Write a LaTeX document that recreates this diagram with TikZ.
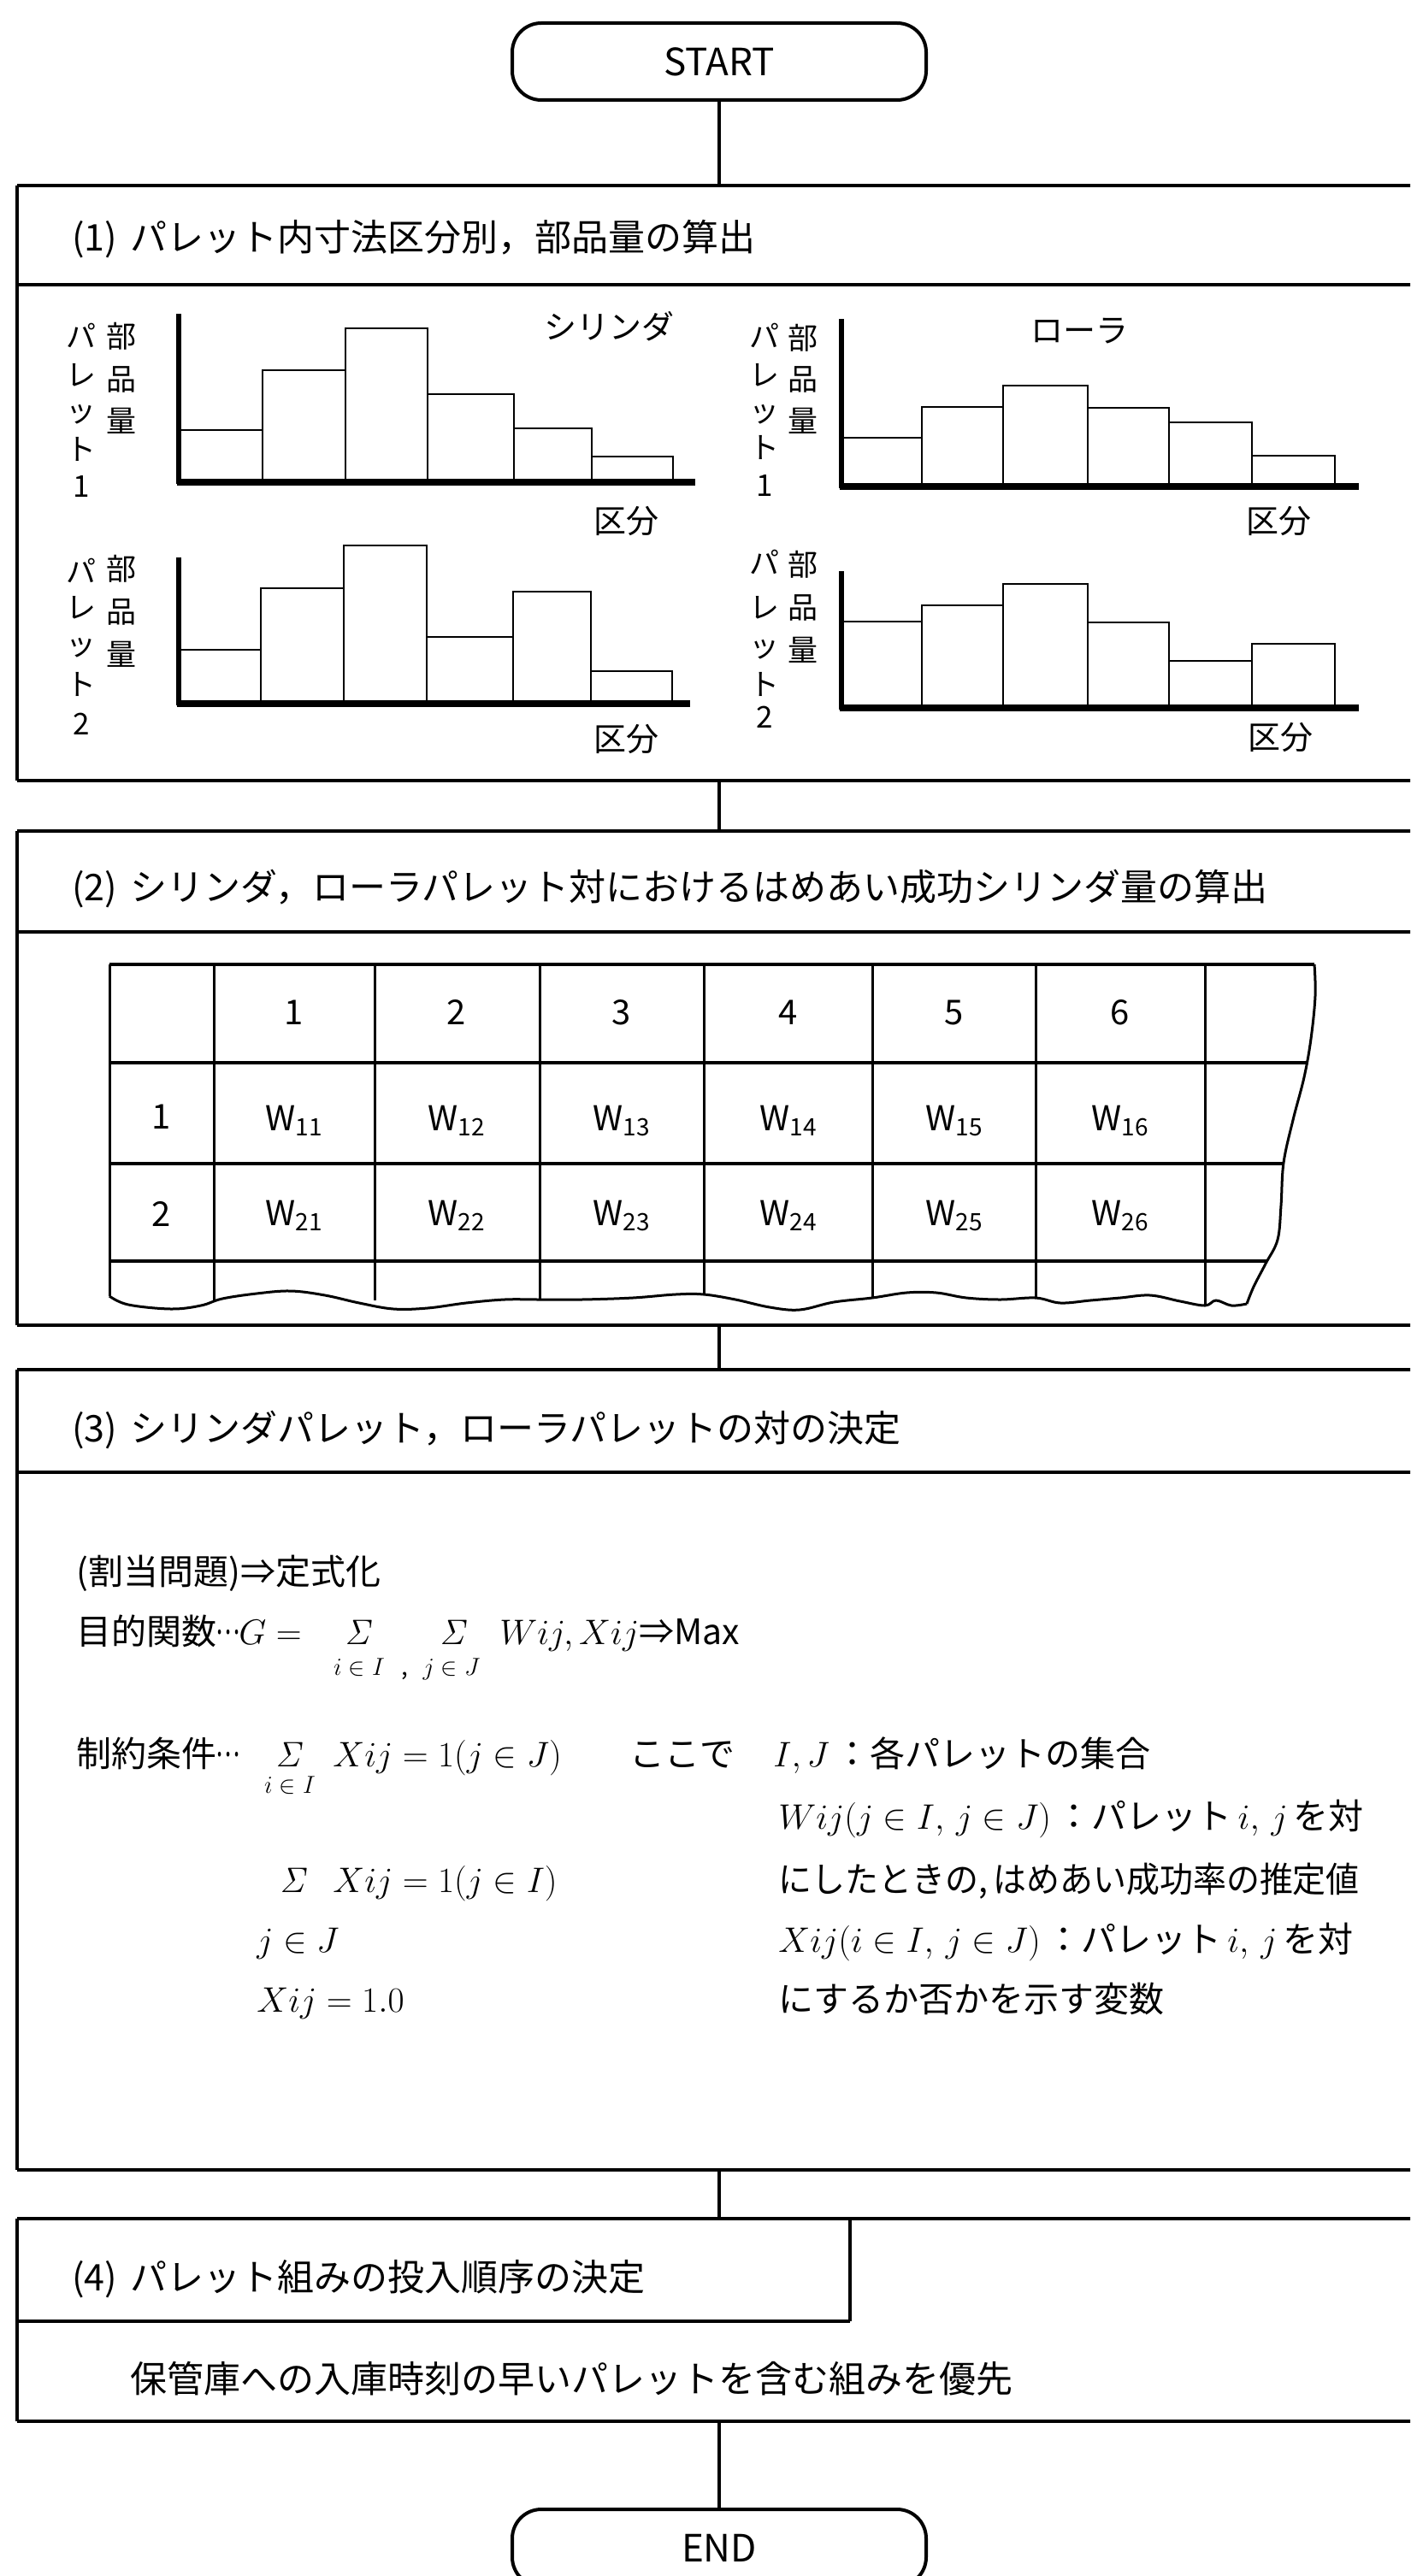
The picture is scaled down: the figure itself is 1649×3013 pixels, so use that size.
\documentclass[tikz,border=0pt]{standalone}
\usepackage[no-math]{fontspec}
\setmainfont{Noto Sans CJK JP}
\usepackage{graphicx}
\begin{document}
\begin{tikzpicture}[x=0.5pt,y=-0.5pt,
  hline/.style={line width=2.4pt},
  vline/.style={line width=1.6pt},
  conn/.style={line width=2.4pt},
  boxn/.style={anchor=north west, minimum width=850pt, inner sep=0pt, outer sep=0pt},
  term/.style={draw, line width=2pt, rounded corners=17pt, minimum width=242pt, minimum height=45pt, inner sep=0pt, font=\fontsize{22}{26}\selectfont},
  hdr/.style={anchor=base west, inner sep=0pt, font=\fontsize{21.5}{25}\selectfont},
  txt/.style={anchor=base west, inner sep=0pt, font=\fontsize{20.5}{24}\selectfont},
  ctr/.style={anchor=base, inner sep=0pt, font=\fontsize{20.5}{24}\selectfont},
  subl/.style={anchor=base, inner sep=0pt, font=\fontsize{14}{16}\selectfont},
  lbl/.style={anchor=base, inner sep=0pt, font=\fontsize{17.5}{20}\selectfont},
  clab/.style={anchor=base, inner sep=0pt, font=\fontsize{19}{22}\selectfont},
  celltxt/.style={anchor=base, inner sep=0pt, font=\fontsize{20}{24}\selectfont},
  hbar/.style={line width=1.4pt},
  yax/.style={line width=3pt},
  xax/.style={line width=4pt},
  tline/.style={line width=1.5pt},
  thl/.style={line width=2pt}
]
\useasboundingbox (0,0) rectangle (1649,3013);
\clip (0,0) rectangle (1649,3013);

% ---------- boxes ----------
\node[boxn, minimum height=348pt] (b1) at (20,217) {};
\node[boxn, minimum height=289pt] (b2) at (20,972) {};
\node[boxn, minimum height=468pt] (b3) at (20,1602) {};
\node[boxn, minimum height=118.5pt] (b4) at (20,2595) {};
\foreach \b in {b1,b2,b3,b4} {
  \draw[hline] (\b.north west) -- (\b.north east);
  \draw[hline] (\b.south west) -- (\b.south east);
  \draw[vline] (\b.north west) -- (\b.south west);
}
\coordinate (d1) at (0,333);
\coordinate (d2) at (0,1090);
\coordinate (d3) at (0,1722);
\coordinate (d4) at (994,2715);
\draw[hline] (b1.west |- d1) -- (b1.east |- d1);
\draw[hline] (b2.west |- d2) -- (b2.east |- d2);
\draw[hline] (b3.west |- d3) -- (b3.east |- d3);
\draw[hline] (b4.west |- d4) -- (d4);
\draw[vline] (d4) -- (d4 |- b4.north);

% ---------- terminals and connectors ----------
\node[term] (start) at (841,72) {START};
\node[term] (endn) at (841,2980) {END};
\draw[conn] (start.south) -- (start.south |- b1.north);
\draw[conn] (start.south |- b1.south) -- (start.south |- b2.north);
\draw[conn] (start.south |- b2.south) -- (start.south |- b3.north);
\draw[conn] (start.south |- b3.south) -- (start.south |- b4.north);
\draw[conn] (endn.north |- b4.south) -- (endn.north);

% ---------- headers ----------
\node[hdr] (t1) at (84,293) {(1)\hspace{0.35em}パレット内寸法区分別，部品量の算出};
\node[hdr] (t2) at (84,1053) {(2)\hspace{0.35em}シリンダ，ローラパレット対におけるはめあい成功シリンダ量の算出};
\node[hdr] (t3) at (84,1686) {(3)\hspace{0.35em}シリンダパレット，ローラパレットの対の決定};
\node[hdr] (t4) at (84,2679) {(4)\hspace{0.35em}パレット組みの投入順序の決定};
\node[hdr] (t5) at (152,2798) {保管庫への入庫時刻の早いパレットを含む組みを優先};

% ---------- charts ----------
% top-left
\draw[yax] (209,367) -- (209,566);
\draw[xax] (207,564) -- (813,564);
\foreach \a/\b/\t in {209/307/503, 307/404/433, 404/500/384, 500/601/461, 601/692/501, 692/787/534}
  \draw[hbar] (\a,563) rectangle (\b,\t);
% bottom-left
\draw[yax] (209,652) -- (209,825);
\draw[xax] (207,823) -- (807,823);
\foreach \a/\b/\t in {209/305/760, 305/402/688, 402/499/638, 499/600/745, 600/691/692, 691/786/785}
  \draw[hbar] (\a,822) rectangle (\b,\t);
% top-right
\draw[yax] (984,373) -- (984,571);
\draw[xax] (982,569) -- (1589,569);
\foreach \a/\b/\t in {984/1078/512, 1078/1173/476, 1173/1272/451, 1272/1367/477, 1367/1464/494, 1464/1561/533}
  \draw[hbar] (\a,568) rectangle (\b,\t);
% bottom-right
\draw[yax] (984,668) -- (984,830);
\draw[xax] (982,828) -- (1589,828);
\foreach \a/\b/\t in {984/1078/727, 1078/1173/708, 1173/1272/683, 1272/1367/728, 1367/1464/773, 1464/1561/753}
  \draw[hbar] (\a,827) rectangle (\b,\t);

% chart labels
\node[clab] (cy) at (712,396) {シリンダ};
\node[clab] (cr) at (1262,400) {ローラ};
\node[clab] (k1) at (732,623) {区分};
\node[clab] (k2) at (732,878) {区分};
\node[clab] (k3) at (1495,623) {区分};
\node[clab] (k4) at (1497,876) {区分};
\foreach \c/\y in {パ/393, レ/438, ッ/480, ト/525, 1/568}
  \node[lbl] (tla\y) at (95,\y+13) {\c};
\foreach \c/\y in {部/393, 品/443, 量/492}
  \node[lbl] (tlb\y) at (142,\y+13) {\c};
\foreach \c/\y in {パ/668, レ/710, ッ/753, ト/800, 2/846}
  \node[lbl] (bla\y) at (95,\y+13) {\c};
\foreach \c/\y in {部/665, 品/715, 量/765}
  \node[lbl] (blb\y) at (142,\y+13) {\c};
\foreach \c/\y in {パ/393, レ/438, ッ/480, ト/523, 1/567}
  \node[lbl] (tra\y) at (894,\y+13) {\c};
\foreach \c/\y in {部/395, 品/443, 量/492}
  \node[lbl] (trb\y) at (939,\y+13) {\c};
\foreach \c/\y in {パ/658, レ/710, ッ/755, ト/800, 2/838}
  \node[lbl] (bra\y) at (894,\y+13) {\c};
\foreach \c/\y in {部/660, 品/710, 量/760}
  \node[lbl] (brb\y) at (939,\y+13) {\c};

% ---------- table ----------
\foreach \x/\yb in {128/1516, 250/1522, 438/1521, 631/1520, 823/1514, 1020/1518, 1211/1518, 1409/1527}
  \draw[tline] (\x,1128) -- (\x,\yb);
\draw[thl] (128,1128) -- (1537,1128);
\draw[thl] (128,1243) -- (1529,1243);
\draw[thl] (128,1361) -- (1501,1361);
\draw[thl] (128,1475) -- (1482,1475);
\draw[tline] plot[smooth, tension=0.6] coordinates {(128,1516) (150,1526) (200,1531) (235,1527) (260,1519) (300,1513) (340,1510) (380,1515) (420,1524) (460,1531) (500,1530) (545,1524) (590,1520) (631,1520) (680,1520) (740,1518) (790,1514) (823,1514) (860,1520) (900,1529) (935,1532) (975,1523) (1020,1518) (1060,1512) (1095,1512) (1130,1518) (1170,1520) (1211,1518) (1240,1524) (1275,1521) (1310,1518) (1345,1515) (1380,1522) (1409,1527) (1422,1521) (1440,1527) (1458,1525)};
\draw[tline] plot[smooth, tension=0.6] coordinates {(1537,1128) (1538,1165) (1533,1215) (1525,1260) (1512,1310) (1501,1360) (1498,1410) (1494,1450) (1480,1478) (1466,1505) (1458,1525)};

\foreach \x/\n in {344/1, 534/2, 727/3, 922/4, 1116/5, 1310/6}
  \node[celltxt] (h\n) at (\x,1198) {\n};
\node[celltxt] (r1) at (189,1320) {1};
\node[celltxt] (r2) at (189,1434) {2};
\foreach \x/\n in {344/1, 534/2, 727/3, 922/4, 1116/5, 1310/6} {
  \node[celltxt] (wa\n) at (\x,1322) {W\textsubscript{1\n}};
  \node[celltxt] (wb\n) at (\x,1433) {W\textsubscript{2\n}};
}

% ---------- formulation ----------
\node[txt] (f1) at (89,1853) {(割当問題)⇒定式化};
\node[txt] (f2a) at (89,1923) {目的関数};
\node[txt] (f2b) at (252,1923) {\raisebox{0.28em}{\scalebox{0.65}[1]{…}}};
\node[txt] (f2c) at (279,1923) {$G=$};
\node[ctr] (s1) at (420,1923) {$\mathit{\Sigma}$};
\node[ctr] (s2) at (531,1923) {$\mathit{\Sigma}$};
\node[subl] (s1l) at (420,1959) {$i\in I$};
\node[subl] (sc) at (473,1959) {,};
\node[subl] (s2l) at (528,1959) {$j\in J$};
\node[txt] (f2d) at (584,1923) {$Wij, Xij$⇒Max};

\node[txt] (f3a) at (89,2066) {制約条件};
\node[txt] (f3b) at (252,2066) {\raisebox{0.28em}{\scalebox{0.65}[1]{…}}};
\node[ctr] (s3) at (339,2066) {$\mathit{\Sigma}$};
\node[subl] (s3l) at (339,2097) {$i\in I$};
\node[txt] (f3c) at (389,2066) {$Xij=1(j\in J)$};
\node[txt] (f3d) at (736,2066) {ここで};
\node[txt] (f3e) at (904,2066) {$I, J$\,：各パレットの集合};
\node[txt] (f4) at (910,2139) {$Wij(j\in I,\, j\in J)$\,：パレット\,$i,\, j$\,を対};
\node[ctr] (s4) at (344,2213) {$\mathit{\Sigma}$};
\node[txt] (f5a) at (389,2213) {$Xij=1(j\in I)$};
\node[txt] (f5b) at (910,2213) {\scalebox{0.95}[1]{にしたときの,\,はめあい成功率の推定値}};
\node[txt] (f6a) at (300,2283) {$j\in J$};
\node[txt] (f6b) at (910,2283) {$Xij(i\in I,\, j\in J)$\,：パレット\,$i,\, j$\,を対};
\node[txt] (f7a) at (300,2353) {$Xij=1.0$};
\node[txt] (f7b) at (910,2353) {にするか否かを示す変数};
\end{tikzpicture}
\end{document}
